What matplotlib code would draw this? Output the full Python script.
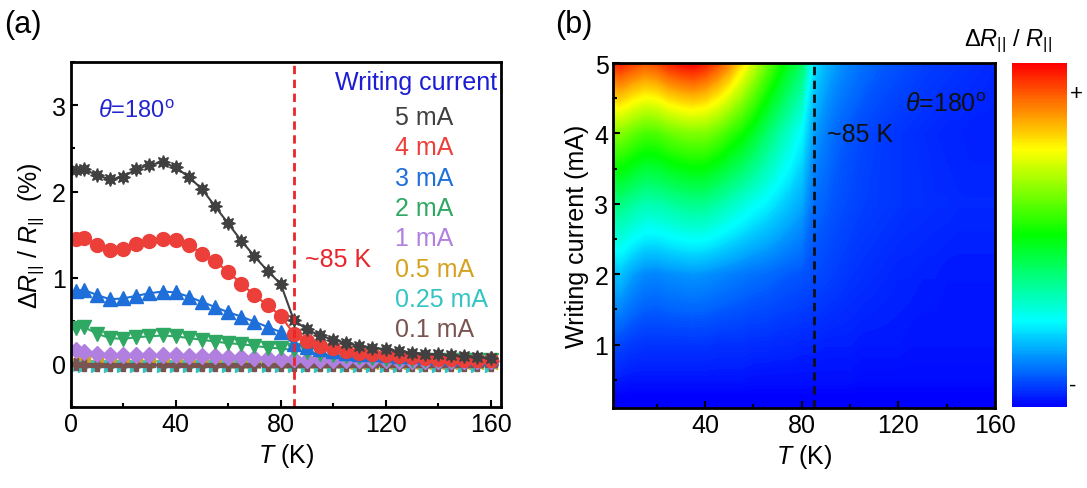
import numpy as np
import matplotlib
matplotlib.use("Agg")
import matplotlib.pyplot as plt
from matplotlib.colors import LinearSegmentedColormap
from matplotlib.ticker import MultipleLocator

plt.rcParams['font.family'] = ['Liberation Sans', 'DejaVu Sans']
plt.rcParams['mathtext.fontset'] = 'custom'
plt.rcParams['mathtext.rm'] = 'Liberation Sans'
plt.rcParams['mathtext.it'] = 'Liberation Sans:italic'
plt.rcParams['mathtext.bf'] = 'Liberation Sans:bold'

# temperature (K)
T = [2] + list(range(5, 165, 5))

# dR/R (%) for each writing current
r_5mA = [2.25, 2.26, 2.19, 2.14, 2.17, 2.26, 2.31, 2.34, 2.28, 2.17, 2.03, 1.83,
         1.63, 1.43, 1.25, 1.08, 0.93, 0.51, 0.40, 0.33, 0.28, 0.24, 0.21, 0.19,
         0.17, 0.15, 0.13, 0.12, 0.11, 0.10, 0.09, 0.08, 0.07]
r_4mA = [1.45, 1.46, 1.38, 1.32, 1.33, 1.39, 1.43, 1.45, 1.44, 1.38, 1.28, 1.19,
         1.07, 0.93, 0.80, 0.68, 0.56, 0.35, 0.27, 0.21, 0.18, 0.15, 0.13, 0.11,
         0.10, 0.09, 0.08, 0.07, 0.06, 0.06, 0.05, 0.05, 0.05]
r_3mA = [0.85, 0.86, 0.80, 0.75, 0.76, 0.79, 0.82, 0.84, 0.83, 0.78, 0.72, 0.66,
         0.60, 0.55, 0.49, 0.43, 0.37, 0.23, 0.20, 0.17, 0.15, 0.13, 0.12, 0.11,
         0.10, 0.09, 0.09, 0.08, 0.08, 0.07, 0.07, 0.07, 0.07]
r_2mA = [0.42, 0.43, 0.35, 0.30, 0.29, 0.31, 0.32, 0.33, 0.32, 0.30, 0.28, 0.26,
         0.24, 0.23, 0.21, 0.19, 0.18, 0.16, 0.14, 0.12, 0.10, 0.09, 0.08, 0.07,
         0.06, 0.06, 0.05, 0.05, 0.04, 0.04, 0.04, 0.04, 0.04]
r_1mA = [0.16, 0.14, 0.11, 0.10, 0.10, 0.10, 0.10, 0.10, 0.10, 0.09, 0.09, 0.09,
         0.08, 0.08, 0.07, 0.07, 0.06, 0.06, 0.05, 0.05, 0.05, 0.04, 0.04, 0.04,
         0.04, 0.03, 0.03, 0.03, 0.03, 0.03, 0.03, 0.03, 0.03]
r_05mA = [0.05, 0.04, 0.03, 0.03, 0.03, 0.03, 0.03, 0.03, 0.03, 0.03, 0.03, 0.03,
          0.02, 0.02, 0.02, 0.02, 0.02, 0.02, 0.02, 0.02, 0.02, 0.01, 0.01, 0.01,
          0.01, 0.01, 0.01, 0.01, 0.01, 0.01, 0.01, 0.01, 0.01]
r_025mA = [-0.02] * 33
r_01mA = [0.00, -0.01, -0.01, -0.01, -0.01, -0.01, -0.01, -0.01, -0.01, -0.01,
          -0.01, -0.01, -0.01, -0.01, -0.01, -0.01, -0.01, -0.01, -0.01, -0.01,
          -0.01, -0.01, -0.01, -0.01, -0.01, -0.01, -0.01, -0.01, -0.01, -0.01,
          -0.01, -0.01, -0.01]

currents = [0.1, 0.25, 0.5, 1, 2, 3, 4, 5]
labels = ['0.1 mA', '0.25 mA', '0.5 mA', '1 mA', '2 mA', '3 mA', '4 mA', '5 mA']
series = [r_01mA, r_025mA, r_05mA, r_1mA, r_2mA, r_3mA, r_4mA, r_5mA]
colors = ['#7a5450', '#35c4c4', '#d4a21e', '#b07fe0', '#2ea862', '#1e6fd9',
          '#ec3f3a', '#404040']
markers = ['P', '>', '<', 'D', 'v', '^', 'o', (8, 1, 0)]
msizes = [8, 8, 8, 8, 10, 10, 10, 10]

fig = plt.figure(figsize=(10.87, 4.89), dpi=100)

# ---------- panel (a) ----------
ax = fig.add_axes([0.065, 0.1656, 0.396, 0.705])
draw_order = [2, 1, 0, 3, 4, 5, 6, 7]
for i in draw_order:
    ax.plot(T, series[i], color=colors[i], marker=markers[i], ms=msizes[i],
            lw=1.5, mec=colors[i])
ax.axvline(85, color='#e8262b', ls=(0, (3, 2)), lw=2)
ax.set_xlim(0, 164)
ax.set_ylim(-0.5, 3.5)
ax.xaxis.set_major_locator(MultipleLocator(40))
ax.xaxis.set_minor_locator(MultipleLocator(20))
ax.yaxis.set_major_locator(MultipleLocator(1))
ax.yaxis.set_minor_locator(MultipleLocator(0.5))
ax.tick_params(which='both', direction='in', labelsize=18, width=1.5)
ax.tick_params(which='major', length=5)
ax.tick_params(which='minor', length=3)
for s in ax.spines.values():
    s.set_linewidth(2)
ax.set_xlabel(r'$T$ (K)', fontsize=18)
ax.set_ylabel(r'$\Delta R_{||}$ / $R_{||}$  (%)', fontsize=18)

ax.text(0.063, 0.859, r'$\theta$=180$^{\mathregular{o}}$', color='#2424d0',
        fontsize=17, transform=ax.transAxes, va='center')
ax.text(0.99, 0.943, 'Writing current', color='#1c1cd6', fontsize=18,
        transform=ax.transAxes, ha='right', va='center')
for k in range(8):
    i = 7 - k
    ax.text(0.754, 0.841 - k * 0.088, labels[i], color=colors[i], fontsize=18,
            transform=ax.transAxes, va='center')
ax.text(0.544, 0.429, '~85 K', color='#e8262b', fontsize=18,
        transform=ax.transAxes, va='center')

fig.text(0.004, 0.949, '(a)', fontsize=22, va='center')
fig.text(0.511, 0.949, '(b)', fontsize=22, va='center')

# ---------- panel (b) ----------
cmap = LinearSegmentedColormap.from_list(
    'bcgyr', ['#0000ff', '#00ffff', '#00ff00', '#ffff00', '#ff0000'])
Z = np.array(series)
vmin, vmax = -0.02, 2.34
bx = fig.add_axes([0.5642, 0.1636, 0.3512, 0.7055])
cs = bx.contourf(T, currents, Z, levels=np.linspace(vmin, vmax, 241),
                 cmap=cmap, vmin=vmin, vmax=vmax)
bx.axvline(85, color='#111111', ls=(0, (3, 2)), lw=2)
bx.set_xlim(2, 160)
bx.set_ylim(0.1, 5)
bx.xaxis.set_minor_locator(MultipleLocator(20))
bx.yaxis.set_major_locator(MultipleLocator(1))
bx.yaxis.set_minor_locator(MultipleLocator(0.5))
bx.set_xticks([40, 80, 120, 160])
bx.tick_params(which='both', direction='in', labelsize=18, width=1.5)
bx.tick_params(which='major', length=5)
bx.tick_params(which='minor', length=3)
for s in bx.spines.values():
    s.set_linewidth(2)
bx.set_xlabel(r'$T$ (K)', fontsize=18)
bx.set_ylabel('Writing current (mA)', fontsize=18)
bx.text(0.56, 0.794, '~85 K', color='#111111', fontsize=18,
        transform=bx.transAxes, va='center')
bx.text(0.977, 0.88, r'$\theta$=180$^{\mathregular{o}}$', color='#111111',
        fontsize=18, transform=bx.transAxes, ha='right', va='center')

cax = fig.add_axes([0.9307, 0.1656, 0.0506, 0.703])
cb = fig.colorbar(cs, cax=cax)
cb.outline.set_visible(False)
span = vmax - vmin
cb.set_ticks([vmin + 0.07 * span, vmin + 0.92 * span])
cb.set_ticklabels(['-', '+'])
cax.tick_params(length=0, labelsize=16, pad=2)
fig.text(0.927, 0.915, r'$\Delta R_{||}$ / $R_{||}$', fontsize=17,
         ha='center', va='center')

fig.savefig('out.png', dpi=100)
